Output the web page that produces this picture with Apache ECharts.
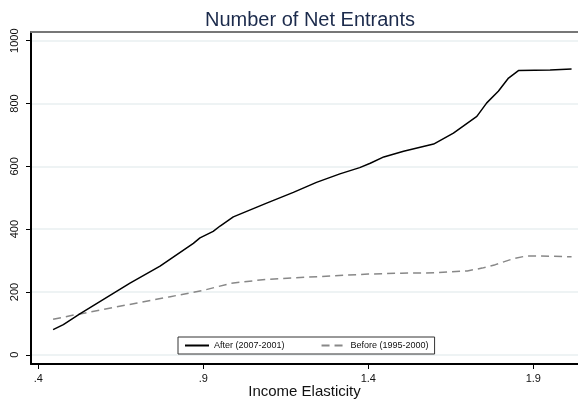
<!DOCTYPE html>
<html>
<head>
<meta charset="utf-8">
<script src="https://cdn.jsdelivr.net/npm/echarts@6/dist/echarts.min.js"></script>
<style>html,body{margin:0;padding:0;background:#fff}#c{width:578px;height:400px}</style>
</head>
<body>
<div id="c"></div>
<script>
var titleText = 'Number of Net Entrants';
var xName = 'Income Elasticity';
var seriesNames = ['After (2007-2001)', 'Before (1995-2000)'];
var xTicks = [0.4, 0.9, 1.4, 1.9];
var yTicks = [0, 200, 400, 600, 800, 1000];

var afterX = [0.445, 0.476, 0.526, 0.678, 0.769, 0.870, 0.890, 0.930, 0.951, 0.991, 1.092, 1.173, 1.243, 1.314, 1.374, 1.406, 1.447, 1.507, 1.598, 1.658, 1.729, 1.759, 1.794, 1.825, 1.855, 1.951, 2.016];
var afterY = [80, 96, 130, 228, 282, 355, 372, 393, 410, 439, 483, 517, 549, 576, 596, 610, 630, 648, 671, 706, 759, 802, 839, 881, 905, 907, 910];

var beforeX = [0.445, 0.5, 0.6, 0.7, 0.8, 0.9, 0.985, 1.09, 1.25, 1.4, 1.5, 1.6, 1.7, 1.745, 1.785, 1.84, 1.88, 1.95, 2.016];
var beforeY = [113, 125, 145, 165, 185, 205, 228, 240, 249, 257, 260, 261, 267, 276, 287, 306, 315, 314, 312];

function pairs(xs, ys) { return xs.map(function (x, i) { return [x, ys[i]]; }); }

var chart = echarts.init(document.getElementById('c'), null, {renderer: 'canvas'});
var ff = 'Liberation Sans, Arial, sans-serif';
chart.setOption({
  animation: false,
  backgroundColor: '#ffffff',
  title: {
    text: titleText, left: 305, top: 5, textAlign: 'center',
    textStyle: {fontFamily: ff, fontSize: 20, fontWeight: 'normal', color: '#1c2b4c'}
  },
  legend: {
    show: true, orient: 'horizontal',
    left: 178, top: 337, padding: [4, 6, 4, 6],
    borderColor: '#333', borderWidth: 1, backgroundColor: '#fff',
    itemWidth: 24, itemHeight: 8, itemGap: 36,
    itemStyle: {opacity: 0},
    textStyle: {fontFamily: ff, fontSize: 9, color: '#111'},
    data: seriesNames
  },
  grid: {left: 31, right: 0, top: 32, bottom: 36, containLabel: false, outerBoundsMode: 'none'},
  xAxis: [{
    type: 'value', min: 0.378, max: 2.0355,
    name: xName, nameLocation: 'middle', nameGap: 20, nameMoveOverlap: false,
    nameTextStyle: {fontFamily: ff, fontSize: 15, color: '#111'},
    axisLine: {show: true, onZero: false, lineStyle: {color: '#000', width: 2}},
    axisTick: {show: true, length: 5, customValues: xTicks, lineStyle: {color: '#000', width: 1}},
    axisLabel: {
      customValues: xTicks, margin: 9, fontFamily: ff, fontSize: 11, color: '#111',
      formatter: function (v) { var s = String(Math.round(v * 10) / 10); return s.charAt(0) === '0' ? s.slice(1) : s; }
    },
    splitLine: {show: false}
  }, {
    type: 'value', position: 'top', min: 0.378, max: 2.0355,
    axisLine: {show: true, onZero: false, lineStyle: {color: '#777', width: 2}},
    axisTick: {show: false}, axisLabel: {show: false}, splitLine: {show: false}
  }],
  yAxis: {
    type: 'value', min: -29.3, max: 1027.7,
    axisLine: {show: true, onZero: false, lineStyle: {color: '#000', width: 2}},
    axisTick: {show: true, length: 5, customValues: yTicks, lineStyle: {color: '#000', width: 1}},
    axisLabel: {customValues: yTicks, rotate: 90, margin: 11, fontFamily: ff, fontSize: 11, color: '#111',
      formatter: function (v) { return String(Math.round(v)); }},
    splitLine: {show: true, lineStyle: {color: '#e8eff1', width: 1.5}}
  },
  series: [
    {
      name: seriesNames[0], type: 'line', xAxisIndex: 0, data: pairs(afterX, afterY),
      showSymbol: false, symbol: 'none', lineStyle: {color: '#000', width: 1.5}, itemStyle: {color: '#000'}, z: 3
    },
    {
      name: seriesNames[1], type: 'line', xAxisIndex: 0, data: pairs(beforeX, beforeY),
      showSymbol: false, symbol: 'none', lineStyle: {color: '#888', width: 1.5, type: [8, 5]}, itemStyle: {color: '#888'}, z: 2
    }
  ]
});
</script>
</body>
</html>
